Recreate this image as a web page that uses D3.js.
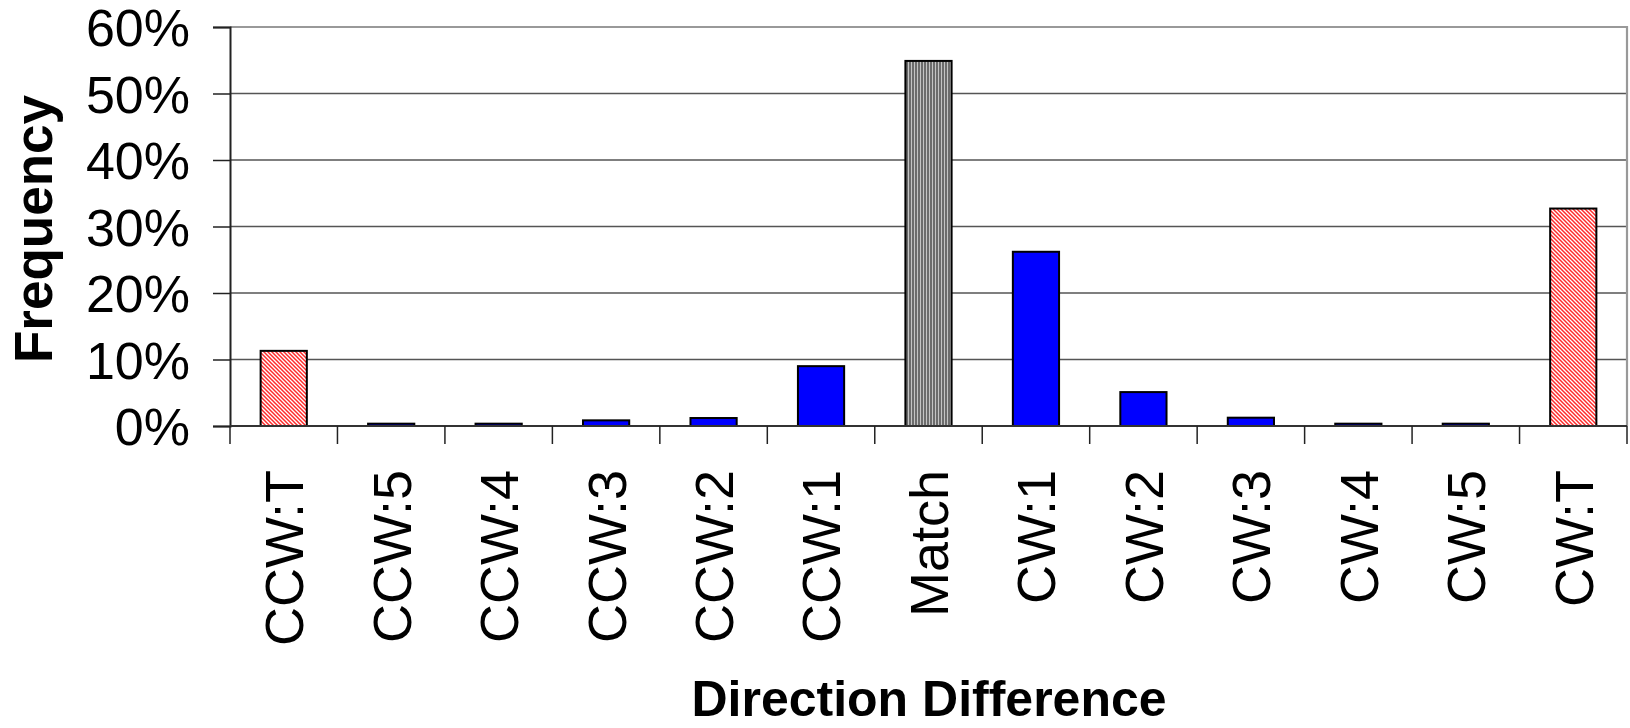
<!DOCTYPE html>
<html>
<head>
<meta charset="utf-8">
<script src="https://cdn.jsdelivr.net/npm/d3@7"></script>
<style>
  html, body { margin: 0; padding: 0; background: #fff; }
  svg { display: block; font-family: Arial, "Liberation Sans", sans-serif; }
</style>
</head>
<body>
<svg id="chart" width="1630" height="728"></svg>
<script>
// ---- data ----
const categories = ["CCW:T", "CCW:5", "CCW:4", "CCW:3", "CCW:2", "CCW:1", "Match",
                    "CW:1", "CW:2", "CW:3", "CW:4", "CW:5", "CW:T"];
const frequency = [0.113, 0.0035, 0.0035, 0.0085, 0.012, 0.090, 0.549,
                   0.262, 0.051, 0.0125, 0.0035, 0.0035, 0.327];
const yTicks = [0, 0.1, 0.2, 0.3, 0.4, 0.5, 0.6];
const xTitle = "Direction Difference";
const yTitle = "Frequency";

// ---- layout ----
const svg = d3.select("#chart");
const plot = { left: 230, right: 1627, top: 27, bottom: 426 };

const x = d3.scaleBand().domain(categories).range([plot.left, plot.right]).padding(0);
const y = d3.scaleLinear().domain([0, 0.6]).range([plot.bottom, plot.top]);

// patterns
const defs = svg.append("defs");
const hatch = defs.append("pattern").attr("id", "redHatch")
  .attr("patternUnits", "userSpaceOnUse").attr("width", 4).attr("height", 4);
hatch.append("rect").attr("width", 4).attr("height", 4).attr("fill", "#ffffff");
hatch.append("path").attr("d", "M0,0 L4,4 M-1,3 L1,5 M3,-1 L5,1")
  .attr("stroke", "#ff2a2a").attr("stroke-width", 1.5);

const vstripe = defs.append("pattern").attr("id", "grayStripe")
  .attr("patternUnits", "userSpaceOnUse").attr("width", 3).attr("height", 3);
vstripe.append("rect").attr("width", 3).attr("height", 3).attr("fill", "#6c6c6c");
vstripe.append("rect").attr("x", 2).attr("width", 1).attr("height", 3).attr("fill", "#c4c4c4");

function fillFor(c) {
  if (c === "Match") return "url(#grayStripe)";
  if (c.endsWith(":T")) return "url(#redHatch)";
  return "#0000ff";
}

// gridlines
svg.append("g").selectAll("line").data(yTicks.filter(t => t > 0 && t < 0.6)).join("line")
  .attr("x1", plot.left).attr("x2", plot.right)
  .attr("y1", d => y(d)).attr("y2", d => y(d))
  .attr("stroke", "#555").attr("stroke-width", 1.3);

// plot border (top & right)
svg.append("path")
  .attr("d", `M${plot.left},${y(0.6)} H${plot.right} V${plot.bottom}`)
  .attr("fill", "none").attr("stroke", "#999").attr("stroke-width", 2.2);

// bars
const barW = x.bandwidth() * 0.43;
svg.append("g").selectAll("rect").data(categories).join("rect")
  .attr("x", d => x(d) + (x.bandwidth() - barW) / 2)
  .attr("width", barW)
  .attr("y", (d, i) => y(frequency[i]))
  .attr("height", (d, i) => y(0) - y(frequency[i]))
  .attr("fill", d => fillFor(d))
  .attr("stroke", "#000").attr("stroke-width", 2);

// y axis
const yAxis = d3.axisLeft(y).tickValues(yTicks).tickFormat(d3.format(".0%"))
  .tickSize(17).tickPadding(23);
const yg = svg.append("g").attr("transform", `translate(${plot.left},0)`).call(yAxis);
yg.select(".domain").attr("stroke", "#222").attr("stroke-width", 2);
yg.selectAll(".tick line").attr("stroke", "#222").attr("stroke-width", 1.5);
yg.selectAll(".tick text").attr("font-size", 52).attr("fill", "#000")
  .attr("font-family", "Arial, 'Liberation Sans', sans-serif").attr("dy", "0.36em");

// x axis line and boundary ticks
svg.append("line").attr("x1", plot.left).attr("x2", plot.right)
  .attr("y1", y(0)).attr("y2", y(0)).attr("stroke", "#333").attr("stroke-width", 2);
const bounds = categories.map(c => x(c)).concat([x.range()[1]]);
svg.append("g").selectAll("line").data(bounds).join("line")
  .attr("x1", d => d).attr("x2", d => d)
  .attr("y1", y(0)).attr("y2", y(0) + 18)
  .attr("stroke", "#222").attr("stroke-width", 1.5);

// x labels (rotated)
svg.append("g").selectAll("text").data(categories).join("text")
  .attr("transform", d => `translate(${x(d) + x.bandwidth() / 2},${y(0) + 44}) rotate(-90)`)
  .attr("text-anchor", "end").attr("dy", "0.36em")
  .attr("font-size", 54).attr("fill", "#000")
  .text(d => d);

// titles
svg.append("text").attr("x", 929).attr("y", 716)
  .attr("text-anchor", "middle").attr("font-weight", "bold").attr("font-size", 50)
  .text(xTitle);
svg.append("text").attr("transform", `translate(52,229) rotate(-90)`)
  .attr("text-anchor", "middle").attr("font-weight", "bold").attr("font-size", 53)
  .text(yTitle);
</script>
</body>
</html>
